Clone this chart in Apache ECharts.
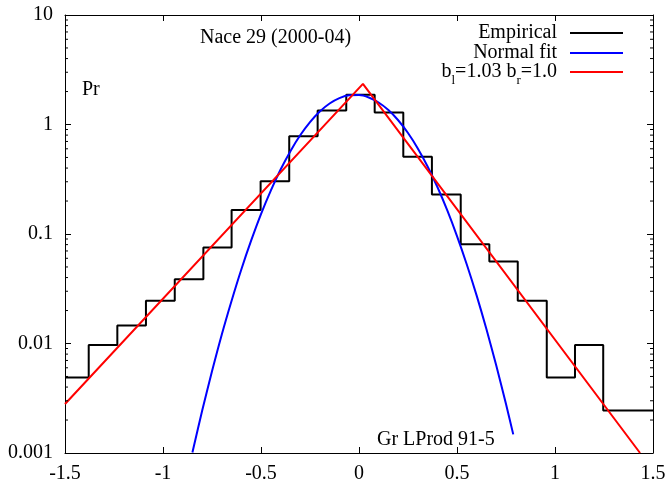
<!DOCTYPE html>
<html><head><meta charset="utf-8">
<script src="https://cdn.jsdelivr.net/npm/echarts@6/dist/echarts.min.js"></script>
<style>html,body{margin:0;padding:0;background:#fff}#c{width:669px;height:484px}</style>
</head><body><div id="c"></div>
<script>
// Histogram bin edges and densities
const binEdges = [-1.5, -1.379, -1.233, -1.087, -0.940, -0.794, -0.650, -0.502, -0.356, -0.211, -0.065, 0.080, 0.226, 0.372, 0.519, 0.665, 0.810, 0.958, 1.102, 1.246, 1.5];
const empirical = [0.0049, 0.0097, 0.0146, 0.0246, 0.0387, 0.0751, 0.166, 0.303, 0.783, 1.34, 1.87, 1.29, 0.508, 0.230, 0.0806, 0.056, 0.0246, 0.0049, 0.0097, 0.00244];
// Normal fit curve samples
const normalX = [-0.85, -0.8, -0.75, -0.7, -0.65, -0.6, -0.55, -0.5, -0.45, -0.4, -0.35, -0.3, -0.25, -0.2, -0.15, -0.1, -0.05, 0, 0.05, 0.1, 0.15, 0.2, 0.25, 0.3, 0.35, 0.4, 0.45, 0.5, 0.55, 0.6, 0.65, 0.7, 0.75, 0.787];
const normalY = [0.00101, 0.00244, 0.00557, 0.0121, 0.0246, 0.0477, 0.0873, 0.152, 0.249, 0.388, 0.571, 0.797, 1.052, 1.315, 1.556, 1.743, 1.849, 1.857, 1.766, 1.589, 1.355, 1.094, 0.836, 0.605, 0.414, 0.2685, 0.165, 0.0958, 0.0527, 0.0275, 0.01355, 0.00632, 0.0028, 0.00148];
// Asymmetric Laplace (subbotin) fit
const laplaceX = [-1.5, 0.02, 1.434];
const laplaceY = [0.0028, 2.35, 0.001];
// Axis ticks
const xTickLabels = ['-1.5', '-1', '-0.5', '0', '0.5', '1', '1.5'];
const yTickLabels = ['0.001', '0.01', '0.1', '1', '10'];
const minorMultipliers = [2, 3, 4, 5, 6, 7, 8, 9];
const decades = [0.001, 0.01, 0.1, 1];

const FONT = 'Liberation Serif';
const histPts = [];
for (let i = 0; i < empirical.length; i++) {
  histPts.push([binEdges[i], empirical[i]], [binEdges[i + 1], empirical[i]]);
}
const normalPts = normalX.map((x, i) => [x, normalY[i]]);
const lapPts = laplaceX.map((x, i) => [x, laplaceY[i]]);
const minorVals = [];
decades.forEach(d => minorMultipliers.forEach(m => minorVals.push([-1.5, +(m * d).toPrecision(3)])));

const chart = echarts.init(document.getElementById('c'));
const axisLineStyle = { color: '#000', width: 1 };
const legendBase = {
  orient: 'vertical', align: 'right', right: 41, itemWidth: 53, itemHeight: 2, icon: 'rect',
  textStyle: { fontFamily: FONT, fontSize: 20, color: '#000', padding: [0, 8, 0, 0],
    rich: { sub: { fontFamily: FONT, fontSize: 13, color: '#000', verticalAlign: 'bottom', lineHeight: 30 } } },
  selectedMode: false
};
chart.setOption({
  animation: false,
  backgroundColor: '#fff',
  grid: { left: 65, right: 16, top: 15, bottom: 29, containLabel: false },
  title: [
    { text: 'Nace 29 (2000-04)', left: 200, top: 28, padding: 0, textStyle: { fontFamily: FONT, fontSize: 20, fontWeight: 'normal', color: '#000' } },
    { text: 'Pr', left: 82, top: 80, padding: 0, textStyle: { fontFamily: FONT, fontSize: 20, fontWeight: 'normal', color: '#000' } },
    { text: 'Gr LProd 91-5', left: 377, top: 430, padding: 0, textStyle: { fontFamily: FONT, fontSize: 20, fontWeight: 'normal', color: '#000' } }
  ],
  legend: [
    Object.assign({}, legendBase, { data: ['Empirical'], top: 18 }),
    Object.assign({}, legendBase, { data: ['Normal fit'], top: 38 }),
    Object.assign({}, legendBase, { data: ['lap'], top: 57, formatter: () => 'b{sub|l}=1.03 b{sub|r}=1.0' })
  ],
  xAxis: [
    { type: 'value', min: -1.5, max: 1.5, interval: 0.5, position: 'bottom',
      axisLine: { onZero: false, lineStyle: axisLineStyle }, axisTick: { inside: true, length: 6, lineStyle: { color: '#000' } },
      splitLine: { show: false },
      axisLabel: { fontFamily: FONT, fontSize: 20, color: '#000', margin: 11,
        formatter: v => xTickLabels[Math.round((v + 1.5) / 0.5)] } },
    { type: 'value', min: -1.5, max: 1.5, interval: 0.5, position: 'top',
      axisLine: { onZero: false, lineStyle: axisLineStyle }, axisTick: { inside: true, length: 6, lineStyle: { color: '#000' } },
      splitLine: { show: false }, axisLabel: { show: false } }
  ],
  yAxis: [
    { type: 'log', logBase: 10, min: 0.001, max: 10, position: 'left',
      axisLine: { show: true, onZero: false, lineStyle: axisLineStyle }, axisTick: { inside: true, length: 6, lineStyle: { color: '#000' } },
      splitLine: { show: false },
      axisLabel: { fontFamily: FONT, fontSize: 20, color: '#000', margin: 12,
        formatter: v => yTickLabels[Math.round(Math.log10(v) + 3)] } },
    { type: 'log', logBase: 10, min: 0.001, max: 10, position: 'right',
      axisLine: { show: true, onZero: false, lineStyle: axisLineStyle }, axisTick: { inside: true, length: 6, lineStyle: { color: '#000' } },
      splitLine: { show: false }, axisLabel: { show: false } }
  ],
  series: [
    { name: 'Empirical', type: 'line', data: histPts, symbol: 'none', lineStyle: { color: '#000', width: 2 }, itemStyle: { color: '#000' }, z: 3 },
    { name: 'Normal fit', type: 'line', data: normalPts, symbol: 'none', smooth: 0.3, lineStyle: { color: '#0000ff', width: 2 }, itemStyle: { color: '#0000ff' }, z: 4 },
    { name: 'lap', type: 'line', data: lapPts, symbol: 'none', lineStyle: { color: '#ff0000', width: 2 }, itemStyle: { color: '#ff0000' }, z: 5 },
    { name: 'minorTicks', type: 'custom', data: minorVals, silent: true, z: 6,
      renderItem: (params, api) => {
        const v = api.value(1);
        const l = api.coord([-1.5, v]);
        const r = api.coord([1.5, v]);
        return { type: 'group', children: [
          { type: 'line', shape: { x1: l[0], y1: l[1], x2: l[0] + 3, y2: l[1] }, style: { stroke: '#000', lineWidth: 1 } },
          { type: 'line', shape: { x1: r[0] - 3, y1: r[1], x2: r[0], y2: r[1] }, style: { stroke: '#000', lineWidth: 1 } }
        ] };
      } }
  ]
});
</script></body></html>
